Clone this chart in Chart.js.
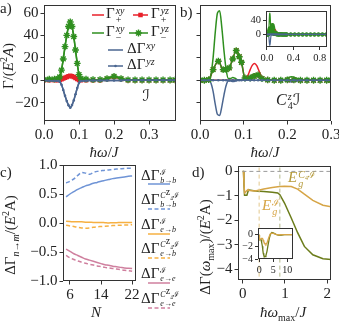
<!DOCTYPE html>
<html>
<head>
<meta charset="utf-8">
<script src="https://cdn.jsdelivr.net/npm/chart.js@4.4.1/dist/chart.umd.min.js"></script>
<style>
  body { margin: 0; width: 339px; height: 321px; overflow: hidden; position: relative; background: #fff;
         font-family: 'Liberation Serif', 'DejaVu Serif', serif; color: #222; }
  canvas { position: absolute; }
  .t { position: absolute; white-space: nowrap; font-size: 15px; line-height: 1; transform: translateY(-50%); }
  .r { position: absolute; white-space: nowrap; font-size: 15px; line-height: 1; transform: translate(-50%, -50%) rotate(-90deg); }
  .c { position: absolute; white-space: nowrap; font-size: 15px; line-height: 1; transform: translate(-50%, -50%); }
  .ss { display: inline-block; vertical-align: middle; font-size: 10px; line-height: 9px; margin-left: 1px; }
  .ss span { display: block; }
  .sm .ss { font-size: 8px; line-height: 8px; }
  .cal { font-family: 'DejaVu Sans', sans-serif; font-weight: normal; }
  sub, sup { font-size: 10px; line-height: 0; }
</style>
</head>
<body>
<canvas id="cA"></canvas>
<canvas id="cB"></canvas>
<canvas id="cBi"></canvas>
<canvas id="cC"></canvas>
<canvas id="cD"></canvas>
<canvas id="cDi"></canvas>
<canvas id="keys" width="339" height="321" style="left:0;top:0"></canvas>

<!-- panel letters -->
<div class="t" style="left:0;top:8px">a)</div>
<div class="t" style="left:180px;top:12px">b)</div>
<div class="t" style="left:0;top:172px">c)</div>
<div class="t" style="left:192px;top:172px">d)</div>

<!-- axis titles -->
<div class="r" style="left:8px;top:66px">Γ/(<i>E</i><sup>2</sup><i>A</i>)</div>
<div class="c" style="left:104px;top:152px"><i>ħω</i>/<i>J</i></div>
<div class="c" style="left:265px;top:152px"><i>ħω</i>/<i>J</i></div>
<div class="r" style="left:10px;top:235px">ΔΓ<sub><i>n</i>→<i>m</i></sub>/(<i>E</i><sup>2</sup>A)</div>
<div class="c" style="left:96px;top:312px"><i>N</i></div>
<div class="r" style="left:205px;top:247px">ΔΓ(<i>ω</i><sub>max</sub>)/(<i>E</i><sup>2</sup>A)</div>
<div class="c" style="left:283px;top:312px"><i>ħω</i><sub>max</sub>/<i>J</i></div>

<!-- panel a legend -->
<div class="t" style="left:106px;top:15px">Γ<span class="ss"><span><i>xy</i></span><span>+</span></span></div>
<div class="t" style="left:151px;top:15px">Γ<span class="ss"><span><i>yz</i></span><span>+</span></span></div>
<div class="t" style="left:106px;top:33px">Γ<span class="ss"><span><i>xy</i></span><span>−</span></span></div>
<div class="t" style="left:151px;top:33px">Γ<span class="ss"><span><i>yz</i></span><span>−</span></span></div>
<div class="t" style="left:127px;top:50px">ΔΓ<span class="ss"><span><i>xy</i></span><span>&nbsp;</span></span></div>
<div class="t" style="left:127px;top:66px">ΔΓ<span class="ss"><span><i>yz</i></span><span>&nbsp;</span></span></div>

<!-- symmetry tags -->
<div class="c cal" style="left:146px;top:96px;font-size:16px">ℐ</div>
<div class="t" style="left:276px;top:101px;font-size:16px"><i>C</i><span class="ss"><span><i>z</i></span><span>4</span></span><span class="cal">ℐ</span></div>

<!-- panel c legend -->
<div class="t sm" style="left:141px;top:176px">ΔΓ<span class="ss"><span>ℐ</span><span><i>b</i>→<i>b</i></span></span></div>
<div class="t sm" style="left:141px;top:200px">ΔΓ<span class="ss"><span><i>C</i><sup>z</sup>₄ℐ</span><span><i>b</i>→<i>b</i></span></span></div>
<div class="t sm" style="left:141px;top:225px">ΔΓ<span class="ss"><span>ℐ</span><span><i>e</i>→<i>b</i></span></span></div>
<div class="t sm" style="left:141px;top:249px">ΔΓ<span class="ss"><span><i>C</i><sup>z</sup>₄ℐ</span><span><i>e</i>→<i>b</i></span></span></div>
<div class="t sm" style="left:141px;top:274px">ΔΓ<span class="ss"><span>ℐ</span><span><i>e</i>→<i>e</i></span></span></div>
<div class="t sm" style="left:141px;top:299px">ΔΓ<span class="ss"><span><i>C</i><sup>z</sup>₄ℐ</span><span><i>e</i>→<i>e</i></span></span></div>

<!-- panel d labels -->
<div class="t" style="left:288px;top:179px;color:#b59a3a"><i>E</i><span class="ss"><span><i>C</i>₄ℐ</span><span><i>g</i></span></span></div>
<div class="t" style="left:262px;top:207px;color:#d6a546"><i>E</i><span class="ss"><span>ℐ</span><span><i>g</i></span></span></div>

<script>
// ---------- panel a : I-symmetric case ----------
const aX = [0, 0.015, 0.03, 0.04, 0.045, 0.05, 0.055, 0.06, 0.065, 0.07, 0.075, 0.08, 0.085, 0.09, 0.095, 0.1,
            0.105, 0.12, 0.14, 0.16, 0.18, 0.2, 0.22, 0.24, 0.26, 0.28, 0.3, 0.32, 0.34, 0.36, 0.375];
const aPlusXY  = [0, 0, 0, 0, 0.3, 0.8, 1.5, 2.2, 2.8, 3.5, 4, 3.6, 2.9, 2, 1, 0.3, 0, 0, 0, 0, 1, 3, 1, 0, 0, 0, 0, 0, 0, 0, 0];
const aPlusYZ  = [0, 0, 0, 0, 0.3, 0.8, 1.5, 2.2, 2.8, 3.5, 4, 3.6, 2.9, 2, 1, 0.3, 0, 0, 0, 0, 1, 3, 1, 0, 0, 0, 0, 0, 0, 0, 0];
const aMinusXY = [0.5, 1, 1, 1.5, 3, 9, 19, 30, 40, 48, 52, 48, 39, 27, 15, 5, 1.5, 1, 0.5, 0.5, 1.5, 3.5, 1.5, 0.3, 0.2, 0.2, 0.2, 0.2, 0.2, 0.2, 0.2];
const aMinusYZ = [0.5, 1, 1, 1.5, 3, 9, 19, 30, 40, 48, 52, 48, 39, 27, 15, 5, 1.5, 1, 0.5, 0.5, 1.5, 3.5, 1.5, 0.3, 0.2, 0.2, 0.2, 0.2, 0.2, 0.2, 0.2];
const aDeltaXY = [0, -0.5, -0.5, -0.7, -1.3, -4.1, -8.7, -13.9, -18.6, -22.3, -24.5, -22.2, -18, -12.5, -7, -2.3, -0.7, -0.5, -0.2, -0.2, -0.2, -0.2, -0.2, 0, 0, 0, 0, 0, 0, 0, 0];
const aDeltaYZ = [0, -0.5, -0.5, -0.7, -1.3, -4.1, -8.7, -13.9, -18.6, -22.3, -24.5, -22.2, -18, -12.5, -7, -2.3, -0.7, -0.5, -0.2, -0.2, -0.2, -0.2, -0.2, 0, 0, 0, 0, 0, 0, 0, 0];

// ---------- panel b : C4z I case (lines on fine grid, marker series on their own grid) ----------
const bX = [0, 0.01, 0.02, 0.025, 0.03, 0.035, 0.04, 0.045, 0.05, 0.055, 0.06, 0.065, 0.07, 0.075, 0.08, 0.085, 0.09, 0.1,
            0.105, 0.11, 0.115, 0.12, 0.125, 0.13, 0.135, 0.14, 0.145, 0.15, 0.17, 0.19, 0.2, 0.21, 0.22, 0.23, 0.25,
            0.3, 0.4, 0.5, 0.6, 0.7, 0.8, 0.9];
const bPlusXY  = [0, 0, 0, 0, 0, 0, 0, 0, 0, 0, 0, 0, 0, 0, 0, 0, 0, 0,
                  1, 4.5, 9.5, 13.5, 15, 13, 8.5, 4, 1.2, 0.2, 0, 0, 0, 0, 0, 0, 0, 0, 0, 0, 0, 0, 0, 0];
const bMinusXY = [0, 0, 0.5, 5, 20, 43, 60, 62, 47, 26, 9, 1.5, 1.5, 2.5, 1.8, 0.5, 0, 0,
                  0.5, 1.8, 3.5, 5, 5.8, 5.5, 4, 2.2, 0.8, 0.2, 0, 0.2, 2, 3, 2, 0.4, 0, 0, 0, 0, 0, 0, 0, 0];
const bDeltaXY = [0, 0, -0.2, -2.5, -10, -21.5, -30.5, -31.5, -23.5, -13, -4.5, -0.8, -0.8, -1.2, -0.9, -0.2, 0, 0,
                  0.2, 1.3, 3, 4.2, 4.6, 3.8, 2.2, 0.9, 0.2, 0, 0, -0.1, -1, -1.5, -1, -0.2, 0, 0, 0, 0, 0, 0, 0, 0];
const bXm = [0, 0.01, 0.02, 0.03, 0.042, 0.053, 0.06, 0.067, 0.075, 0.083, 0.09, 0.095, 0.103, 0.115, 0.124, 0.133, 0.142,
             0.155, 0.17, 0.185, 0.2, 0.215, 0.23, 0.245, 0.26, 0.275, 0.29, 0.3, 0.36, 0.42, 0.48, 0.54, 0.6, 0.66,
             0.72, 0.78, 0.84, 0.9];
const bPlusYZ  = [0, 0, 0.5, 9.5, 17, 9.5, 9.5, 11, 19, 26.5, 21, 16, 2, 2, 3.5, 4.7, 1.5, 0.3, 0, 0, 0.3, 0.3, 0, 0, 0, 0, 0, 0, 0, 0, 0, 0, 0, 0, 0, 0, 0, 0];
const bMinusYZ = [0, 0, 0.5, 9.5, 17, 9.5, 9.5, 11, 19, 26.5, 21, 16, 2, 2, 3.5, 4.7, 1.5, 0.3, 0, 0, 0.3, 0.3, 0, 0, 0, 0, 0, 0, 0, 0, 0, 0, 0, 0, 0, 0, 0, 0];
const bDeltaYZ = [0, 0, 0, 0, 0, 0, 0, 0, 0, 0, 0, 0, 0, 0, 0, 0, 0, 0, 0, 0, 0, 0, 0, 0, 0, 0, 0, 0, 0, 0, 0, 0, 0, 0, 0, 0, 0, 0];

// ---------- panel c : size scaling ----------
const cN   = [5, 6, 7, 8, 9, 10, 11, 12, 13, 14, 15, 16, 17, 18, 19, 20, 21, 22];
const cIbb = [0.45, 0.50, 0.54, 0.58, 0.61, 0.64, 0.66, 0.685, 0.70, 0.72, 0.735, 0.75, 0.765, 0.775, 0.785, 0.795, 0.805, 0.81];
const cCbb = [0.69, 0.72, 0.76, 0.82, 0.87, 0.86, 0.84, 0.87, 0.89, 0.90, 0.91, 0.915, 0.92, 0.93, 0.935, 0.94, 0.943, 0.945];
const cIeb = [0.03, 0.025, 0.02, 0.02, 0.02, 0.015, 0.015, 0.01, 0.01, 0.01, 0.005, 0.0, 0.005, 0.005, 0.01, 0.01, 0.01, 0.01];
const cCeb = [-0.04, -0.05, -0.06, -0.075, -0.085, -0.09, -0.085, -0.075, -0.065, -0.06, -0.055, -0.05, -0.045, -0.04, -0.04, -0.035, -0.035, -0.03];
const cIee = [-0.45, -0.49, -0.53, -0.56, -0.59, -0.62, -0.64, -0.66, -0.68, -0.70, -0.72, -0.73, -0.745, -0.755, -0.765, -0.775, -0.78, -0.785];
const cCee = [-0.56, -0.60, -0.63, -0.655, -0.675, -0.695, -0.71, -0.725, -0.74, -0.75, -0.765, -0.775, -0.785, -0.795, -0.805, -0.815, -0.82, -0.83];

// ---------- panel d : cumulative difference vs cutoff ----------
const dX = [0, 0.02, 0.03, 0.045, 0.1, 0.13, 0.16, 0.3, 0.5, 0.7, 0.83, 0.88, 0.99, 1.15, 1.3, 1.46, 1.66, 1.9, 2.1,
            2.4, 2.8, 3.2, 3.6, 4.0, 4.5, 5, 6, 7, 8, 9, 10, 11, 12];
const dC4 = [0, 0, -0.5, -0.97, -0.97, -0.8, -0.76, -0.8, -0.82, -0.85, -0.88, -0.95, -1.29, -1.9, -2.5, -3.06, -3.4, -3.56, -3.6,
             -3.45, -2.7, -1.6, -0.6, 0.05, 0.35, 0.3, 0.05, -0.1, -0.05, 0, 0, 0, 0];
const dI  = [0, 0, -0.45, -0.88, -0.78, -0.74, -0.78, -0.8, -0.72, -0.66, -0.63, -0.62, -0.61, -0.62, -0.72, -0.93, -1.18, -1.38, -1.45,
             -1.6, -1.35, -0.8, -0.25, 0.15, 0.25, 0.2, 0.05, -0.05, 0, 0, 0, 0, 0];
const dMarkI = 0.39, dMarkC4 = 0.88;

// tick values
const abYTicks = [-20, 0, 20, 40, 60];
const aXTicks = [0, 0.1, 0.2, 0.3];
const bXTicks = [0, 0.1, 0.2, 0.3];
const biXTicks = [0, 0.4, 0.8];
const biYTicks = [0, 40];
const cXTicks = [6, 14, 22];
const cYTicks = [-1, -0.5, 0, 0.5, 1];
const dXTicks = [0, 1, 2];
const dYTicks = [-4, -3, -2, -1, 0];
const diXTicks = [0, 5, 10];
const diYTicks = [-4, -2, 0];

const INK = '#333';
const RED = '#e8202a', GREEN = '#2f8f1f', SLATE = '#4b6690';
const BLUE = '#6f94d6', ORANGE = '#f6b042', PINK = '#cf7f9e';
const GOLD = '#d6a546', OLIVE = '#6b7c1a';
const FONT = "'Liberation Serif', 'DejaVu Serif', serif";

const minus = v => String(v).replace('-', '−');
const fmt0 = v => minus(v);
const fmt1 = v => minus(v.toFixed(1));

const framePlugin = {
  id: 'frame',
  beforeDraw(chart, args, opts) {
    if (!opts.fill) return;
    const { ctx, chartArea: a } = chart;
    ctx.save();
    ctx.fillStyle = opts.fill;
    ctx.fillRect(a.left, a.top, a.right - a.left, a.bottom - a.top);
    ctx.restore();
  },
  afterDraw(chart) {
    const { ctx, chartArea: a } = chart;
    ctx.save();
    ctx.strokeStyle = INK;
    ctx.lineWidth = 1;
    ctx.strokeRect(Math.round(a.left) + 0.5, Math.round(a.top) + 0.5,
                   Math.round(a.right - a.left) - 1, Math.round(a.bottom - a.top) - 1);
    ctx.restore();
  }
};

function axis(o, horizontal, size) {
  return {
    type: 'linear', min: o.min, max: o.max,
    border: { display: false },
    grid: { drawOnChartArea: false, drawTicks: true, tickLength: o.tl || 3.5, color: INK, lineWidth: 1 },
    ticks: { autoSkip: false, maxRotation: 0, padding: o.pad || 2, color: '#222',
             font: { family: FONT, size: o.fs || 15 }, callback: v => o.fmt(v) },
    afterBuildTicks: s => { s.ticks = o.ticks.map(v => ({ value: v })); },
    afterFit: s => {
      if (horizontal) s.height = size; else s.width = size;
      s.paddingLeft = s.paddingRight = s.paddingTop = s.paddingBottom = 0;
    }
  };
}

// box = plot area in page pixels, m = room for axes around it
function makeChart(id, box, m, datasets, sx, sy, fill) {
  const cv = document.getElementById(id);
  const W = box.w + m.l + m.r, H = box.h + m.t + m.b;
  cv.width = W; cv.height = H;
  cv.style.left = (box.x - m.l) + 'px';
  cv.style.top = (box.y - m.t) + 'px';
  cv.style.width = W + 'px';
  cv.style.height = H + 'px';
  return new Chart(cv, {
    type: 'line',
    data: { datasets },
    options: {
      responsive: false, animation: false, devicePixelRatio: 1,
      layout: { padding: { top: m.t, right: m.r, left: 0, bottom: 0 } },
      plugins: { legend: { display: false }, tooltip: { enabled: false }, frame: { fill } },
      scales: { x: axis(sx, true, m.b), y: axis(sy, false, m.l) }
    },
    plugins: [framePlugin]
  });
}

function ser(xs, ys, color, o) {
  return Object.assign({
    data: xs.map((x, i) => ({ x, y: ys[i] })),
    borderColor: color, backgroundColor: color, borderWidth: 1.5,
    pointRadius: 0, cubicInterpolationMode: 'monotone', fill: false
  }, o || {});
}

const sq = k => ({ pointStyle: 'rect', pointRadius: 3.2 * k, pointBackgroundColor: RED, pointBorderWidth: 0 });
const star = k => ({ pointStyle: 'star', pointRadius: 3.4 * k, pointBorderColor: GREEN, pointBorderWidth: 1.4 });
const dot = k => ({ pointStyle: 'circle', pointRadius: 1.3 * k, pointBackgroundColor: SLATE, pointBorderWidth: 0 });

function panelA() {
  return [
    ser(aX, aDeltaYZ, SLATE, dot(1)),
    ser(aX, aDeltaXY, SLATE),
    ser(aX, aMinusYZ, GREEN, star(1)),
    ser(aX, aMinusXY, GREEN),
    ser(aX, aPlusYZ, RED, sq(1)),
    ser(aX, aPlusXY, RED)
  ];
}
function panelB(k, w) {
  return [
    ser(bXm, bDeltaYZ, SLATE, Object.assign(dot(k), { borderWidth: w })),
    ser(bXm, bMinusYZ, GREEN, Object.assign(star(k), { borderWidth: w })),
    ser(bXm, bPlusYZ, RED, Object.assign(sq(k), { borderWidth: w })),
    ser(bX, bDeltaXY, SLATE, { borderWidth: w }),
    ser(bX, bMinusXY, GREEN, { borderWidth: w }),
    ser(bX, bPlusXY, RED, { borderWidth: w })
  ];
}

const abY = { min: -36.4, max: 66.8, ticks: abYTicks, fmt: fmt0 };

makeChart('cA', { x: 44, y: 3, w: 132, h: 118 }, { l: 44, r: 12, t: 3, b: 40 }, panelA(),
  { min: 0, max: 0.377, ticks: aXTicks, fmt: fmt1 }, abY);

makeChart('cB', { x: 200, y: 3, w: 131, h: 118 }, { l: 20, r: 8, t: 3, b: 40 }, panelB(1, 1.5),
  { min: 0, max: 0.3, ticks: bXTicks, fmt: fmt1 }, Object.assign({}, abY, { fmt: () => '' }));

makeChart('cBi', { x: 266, y: 8, w: 61, h: 39 }, { l: 22, r: 6, t: 2, b: 18 }, panelB(0.65, 1.2),
  { min: -0.015, max: 0.91, ticks: biXTicks, fmt: fmt1, fs: 10.5, tl: 3 },
  { min: -36.4, max: 66.8, ticks: biYTicks, fmt: fmt0, fs: 10.5, tl: 3 }, '#fff');

const dash = [4, 2.5];
makeChart('cC', { x: 63, y: 165, w: 73, h: 116 }, { l: 63, r: 6, t: 6, b: 24 }, [
    ser(cN, cIbb, BLUE), ser(cN, cCbb, BLUE, { borderDash: dash }),
    ser(cN, cIeb, ORANGE), ser(cN, cCeb, ORANGE, { borderDash: dash }),
    ser(cN, cIee, PINK), ser(cN, cCee, PINK, { borderDash: dash })
  ],
  { min: 4.2, max: 23, ticks: cXTicks, fmt: fmt0 },
  { min: -1, max: 1, ticks: cYTicks, fmt: fmt1 });

makeChart('cD', { x: 238, y: 166, w: 93, h: 114 }, { l: 30, r: 8, t: 4, b: 26 }, [
    ser([-1, 3], [0, 0], '#9a9a9a', { borderDash: [4, 3], borderWidth: 1 }),
    ser([dMarkI, dMarkI], [-10, 10], '#e3c88c', { borderDash: [4, 3], borderWidth: 1 }),
    ser([dMarkC4, dMarkC4], [-10, 10], '#b4b98a', { borderDash: [4, 3], borderWidth: 1 }),
    ser(dX, dI, GOLD, { cubicInterpolationMode: 'default', tension: 0 }),
    ser(dX, dC4, OLIVE, { cubicInterpolationMode: 'default', tension: 0 })
  ],
  { min: -0.11, max: 2.09, ticks: dXTicks, fmt: fmt0 },
  { min: -4.43, max: 0.22, ticks: dYTicks, fmt: fmt0 });

makeChart('cDi', { x: 258, y: 228, w: 35, h: 31 }, { l: 20, r: 6, t: 2, b: 18 }, [
    ser(dX, dI, GOLD, { borderWidth: 1.3, tension: 0, cubicInterpolationMode: 'default' }),
    ser(dX, dC4, OLIVE, { borderWidth: 1.3, tension: 0, cubicInterpolationMode: 'default' })
  ],
  { min: -0.4, max: 12, ticks: diXTicks, fmt: fmt0, fs: 10, tl: 3 },
  { min: -4, max: 1.1, ticks: diYTicks, fmt: fmt0, fs: 10, tl: 3 }, '#fff');

// ---------- legend samples (drawn with Chart.js point helpers) ----------
const keys = [
  { x0: 92, x1: 104, y: 15, c: RED },
  { x0: 133, x1: 148, y: 15, c: RED, p: sq(1) },
  { x0: 92, x1: 104, y: 33, c: GREEN },
  { x0: 129, x1: 148, y: 33, c: GREEN, p: star(1) },
  { x0: 108, x1: 123, y: 50, c: SLATE },
  { x0: 108, x1: 123, y: 66, c: SLATE, p: dot(1) },
  { x0: 148, x1: 170, y: 184, c: BLUE },
  { x0: 148, x1: 170, y: 209, c: BLUE, d: dash },
  { x0: 148, x1: 170, y: 234, c: ORANGE },
  { x0: 148, x1: 170, y: 258, c: ORANGE, d: dash },
  { x0: 148, x1: 170, y: 283, c: PINK },
  { x0: 148, x1: 170, y: 308, c: PINK, d: dash }
];
const kctx = document.getElementById('keys').getContext('2d');
keys.forEach(k => {
  kctx.save();
  kctx.strokeStyle = k.c;
  kctx.lineWidth = 1.5;
  kctx.setLineDash(k.d || []);
  kctx.beginPath();
  kctx.moveTo(k.x0, k.y);
  kctx.lineTo(k.x1, k.y);
  kctx.stroke();
  if (k.p) {
    kctx.setLineDash([]);
    kctx.fillStyle = k.p.pointBackgroundColor || k.c;
    kctx.strokeStyle = k.p.pointBorderColor || k.c;
    kctx.lineWidth = k.p.pointBorderWidth;
    Chart.helpers.drawPoint(kctx, { pointStyle: k.p.pointStyle, radius: k.p.pointRadius,
      borderWidth: k.p.pointBorderWidth, rotation: 0 }, (k.x0 + k.x1) / 2, k.y);
  }
  kctx.restore();
});
</script>
</body>
</html>
